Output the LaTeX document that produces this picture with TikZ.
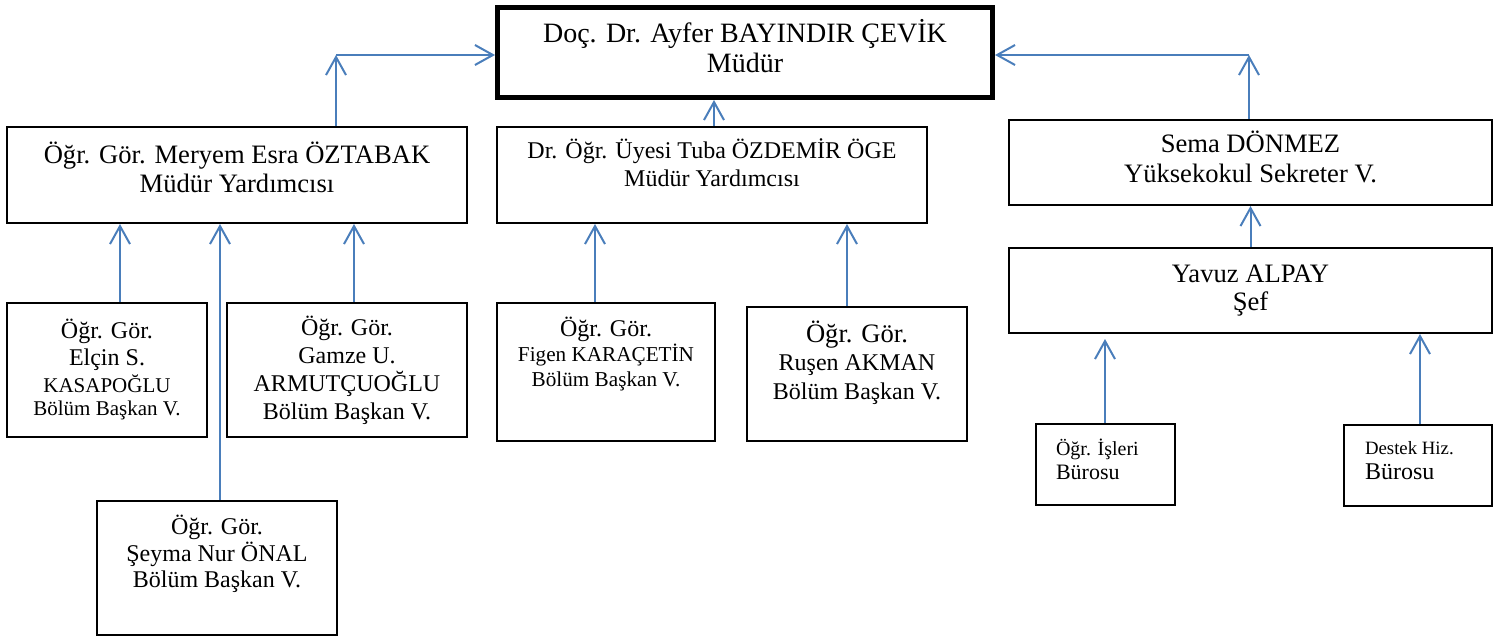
\documentclass[tikz,border=0pt]{standalone}
\usepackage{fontspec}
\setmainfont{Liberation Serif}
\usetikzlibrary{arrows.meta}
\definecolor{linkblue}{RGB}{74,126,187}
\newcommand{\orgcell}[4]{\parbox[c][#2][c]{#1}{\centering #4\par\vspace{#3}}}

\begin{document}
\begin{tikzpicture}[x=0.5pt,y=-0.5pt,
    box/.style={draw,line width=1pt,inner sep=0pt,anchor=north west},
    link/.style={->,draw=linkblue,line width=1pt},
    >={Straight Barb[length=9pt,width=10pt]}]
      \useasboundingbox (0,0) rectangle (1494,637);

      \node [box,line width=2.5pt,font=\fontsize{14}{15}\selectfont] (mudur) at (495,5) {\orgcell{247.5pt}{45pt}{6pt}{Doç. Dr. Ayfer BAYINDIR ÇEVİK\\ Müdür}};
      \node [box,font=\fontsize{13.3}{14.5}\selectfont] (oztabak) at (6,126) {\orgcell{230pt}{48pt}{8pt}{Öğr. Gör. Meryem Esra ÖZTABAK\\ Müdür Yardımcısı}};
      \node [box,font=\fontsize{12}{14}\selectfont] (ozdemir) at (496,126) {\orgcell{215pt}{48pt}{12pt}{Dr. Öğr. Üyesi Tuba ÖZDEMİR ÖGE\\ Müdür Yardımcısı}};
      \node [box,font=\fontsize{13.3}{15}\selectfont] (sema) at (1008,119) {\orgcell{241.5pt}{42.5pt}{6pt}{Sema DÖNMEZ\\ Yüksekokul Sekreter V.}};
      \node [box,font=\fontsize{13.3}{14}\selectfont] (alpay) at (1008,247) {\orgcell{241.5pt}{42.5pt}{0pt}{Yavuz ALPAY\\ Şef}};

      \node [box,font=\fontsize{10.5}{11.5}\selectfont] (elcin) at (6,302) {\orgcell{100pt}{67pt}{0pt}{{\fontsize{12}{13}\selectfont Öğr. Gör.\\[2pt] Elçin S.}\\[2pt] KASAPOĞLU\\ Bölüm Başkan V.}};
      \node [box,font=\fontsize{12}{14}\selectfont] (gamze) at (226,302) {\orgcell{120pt}{67pt}{0pt}{Öğr. Gör.\\ Gamze U.\\ ARMUTÇUOĞLU\\ Bölüm Başkan V.}};
      \node [box,font=\fontsize{12}{13.25}\selectfont] (seyma) at (96,500) {\orgcell{120pt}{67pt}{14pt}{Öğr. Gör.\\ Şeyma Nur ÖNAL\\ Bölüm Başkan V.}};
      \node [box,font=\fontsize{10.6}{12.5}\selectfont] (figen) at (496,302) {\orgcell{109pt}{69pt}{18pt}{{\fontsize{12}{12.5}\selectfont Öğr. Gör.}\\ Figen KARAÇETİN\\ Bölüm Başkan V.}};
      \node [box,font=\fontsize{12}{14.25}\selectfont] (rusen) at (746,306) {\orgcell{110pt}{67pt}{11.5pt}{{\fontsize{13.3}{14.25}\selectfont Öğr. Gör.}\\ Ruşen AKMAN\\ Bölüm Başkan V.}};
      \node [box,font=\fontsize{11}{12}\selectfont] (isleri) at (1035,423) {\orgcell{69.5pt}{40.5pt}{5.5pt}{\raggedright\leftskip=10pt {\fontsize{10}{12}\selectfont Öğr. İşleri}\\ Bürosu}};
      \node [box,font=\fontsize{12}{12.5}\selectfont] (destek) at (1343,424) {\orgcell{74pt}{40.5pt}{5pt}{\raggedright\leftskip=10.5pt {\fontsize{9.4}{12.5}\selectfont Destek Hiz.}\\ Bürosu}};

      \coordinate (j1) at (336,55);
      \coordinate (j2) at (1249,55);
      \coordinate (a1) at (714,0);
      \coordinate (a2) at (120,0);
      \coordinate (a3) at (220,0);
      \coordinate (a4) at (354,0);
      \coordinate (a5) at (595,0);
      \coordinate (a6) at (847,0);
      \coordinate (a7) at (1105,0);
      \coordinate (a8) at (1420,0);

      \draw[link] (oztabak.north -| j1) -- (j1);
      \draw[link] (j1) -- (mudur.west |- j1);
      \draw[link] (sema.north -| j2) -- (j2);
      \draw[link] (j2) -- (mudur.east |- j2);
      \draw[link] (ozdemir.north -| a1) -- (mudur.south -| a1);
      \draw[link] (alpay.north) -- (sema.south);
      \draw[link] (elcin.north -| a2) -- (oztabak.south -| a2);
      \draw[link] (seyma.north -| a3) -- (oztabak.south -| a3);
      \draw[link] (gamze.north -| a4) -- (oztabak.south -| a4);
      \draw[link] (figen.north -| a5) -- (ozdemir.south -| a5);
      \draw[link] (rusen.north -| a6) -- (ozdemir.south -| a6);
      \draw[link,shorten >=2.5pt] (isleri.north -| a7) -- (alpay.south -| a7);
      \draw[link] (destek.north -| a8) -- (alpay.south -| a8);
    \end{tikzpicture}
\end{document}
